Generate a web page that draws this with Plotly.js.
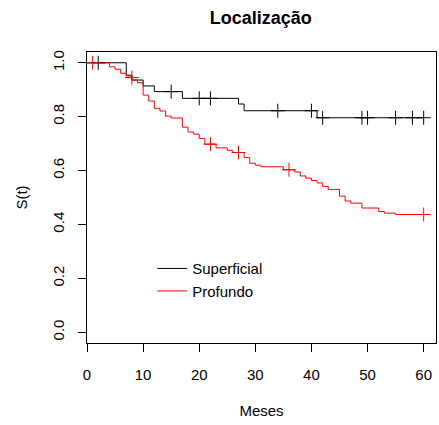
<!DOCTYPE html>
<html>
<head>
<meta charset="utf-8">
<script src="https://cdn.plot.ly/plotly-3.0.1.min.js"></script>
<style>html,body{margin:0;padding:0;background:#fff;}#chart{width:439px;height:425px;}</style>
</head>
<body>
<div id="chart"></div>
<script>
// Superficial: Kaplan-Meier step points (time, survival)
const supTime  = [0, 7, 8, 10, 12, 17, 27, 28, 41, 60];
const supSurv  = [1.0, 0.954, 0.936, 0.914, 0.893, 0.868, 0.847, 0.822, 0.796, 0.796];
const supCensTime = [2, 15, 20, 22, 34, 40, 42, 49, 50, 55, 58, 60];
const supCensSurv = [1.0, 0.893, 0.868, 0.868, 0.822, 0.822, 0.796, 0.796, 0.796, 0.796, 0.796, 0.796];

// Profundo
const proTime = [0, 4, 5, 6, 7, 8, 9, 10, 11, 12, 13, 14, 15, 17, 18, 19, 20, 21, 23, 25, 26, 28, 29, 30, 31, 35, 37, 38, 39, 40, 41, 42, 43, 45, 46, 47, 49, 52, 53, 55, 60];
const proSurv = [1.0, 0.985, 0.976, 0.961, 0.951, 0.936, 0.926, 0.880, 0.858, 0.831, 0.821, 0.802, 0.795, 0.761, 0.743, 0.735, 0.719, 0.698, 0.684, 0.675, 0.667, 0.648, 0.627, 0.620, 0.614, 0.603, 0.595, 0.580, 0.572, 0.563, 0.554, 0.541, 0.530, 0.505, 0.487, 0.479, 0.461, 0.448, 0.442, 0.437, 0.437];
const proCensTime = [1, 8, 22, 27, 36, 60];
const proCensSurv = [1.0, 0.945, 0.698, 0.667, 0.603, 0.437];

const xTicks = [0, 10, 20, 30, 40, 50, 60];
const yTicks = [0.0, 0.2, 0.4, 0.6, 0.8, 1.0];
const yTickText = ["0.0", "0.2", "0.4", "0.6", "0.8", "1.0"];

const FONT = "Liberation Sans, Arial, Helvetica, sans-serif";

const traces = [
  {x: supTime, y: supSurv, type: 'scatter', mode: 'lines', line: {shape: 'hv', color: '#000000', width: 1}, name: 'Superficial'},
  {x: proTime, y: proSurv, type: 'scatter', mode: 'lines', line: {shape: 'hv', color: '#FF0000', width: 1}, name: 'Profundo'},
  {x: supCensTime, y: supCensSurv, type: 'scatter', mode: 'markers', showlegend: false,
   marker: {symbol: 'cross-thin', size: 10, line: {color: '#000000', width: 1}}},
  {x: proCensTime, y: proCensSurv, type: 'scatter', mode: 'markers', showlegend: false,
   marker: {symbol: 'cross-thin', size: 10, line: {color: '#FF0000', width: 1}}}
];

const layout = {
  width: 439, height: 425,
  margin: {l: 87, r: 3, t: 52, b: 82, pad: 0},
  paper_bgcolor: '#ffffff', plot_bgcolor: '#ffffff',
  font: {family: FONT, size: 15, color: '#000000'},
  title: {text: '<b>Localização</b>', font: {family: FONT, size: 18, color: '#000'}, x: 0.594, xanchor: 'center', y: 0.958, yanchor: 'middle'},
  showlegend: true,
  legend: {x: 0.187, y: 0.312, xanchor: 'left', yanchor: 'top', bgcolor: 'rgba(0,0,0,0)', borderwidth: 0,
           font: {family: FONT, size: 15, color: '#000'}, tracegroupgap: 0},
  xaxis: {
    range: [0, 62.2], tickmode: 'array', tickvals: xTicks, ticktext: xTicks.map(String),
    showgrid: false, zeroline: false, showline: true, mirror: true, linecolor: '#000', linewidth: 1,
    ticks: 'outside', ticklen: 8, tickwidth: 1, tickcolor: '#000', ticklabelstandoff: 10,
    tickfont: {family: FONT, size: 15, color: '#000'},
    title: {text: 'Meses', font: {family: FONT, size: 15, color: '#000'}, standoff: 23}
  },
  yaxis: {
    range: [-0.04, 1.04], tickmode: 'array', tickvals: yTicks, ticktext: yTickText, tickangle: -90,
    showgrid: false, zeroline: false, showline: true, mirror: true, linecolor: '#000', linewidth: 1,
    ticks: 'outside', ticklen: 8, tickwidth: 1, tickcolor: '#000', ticklabelstandoff: 8,
    tickfont: {family: FONT, size: 15, color: '#000'},
    title: {text: 'S(t)', font: {family: FONT, size: 15, color: '#000'}, standoff: 18}
  }
};

Plotly.newPlot('chart', traces, layout, {displayModeBar: false, staticPlot: true});
</script>
</body>
</html>
